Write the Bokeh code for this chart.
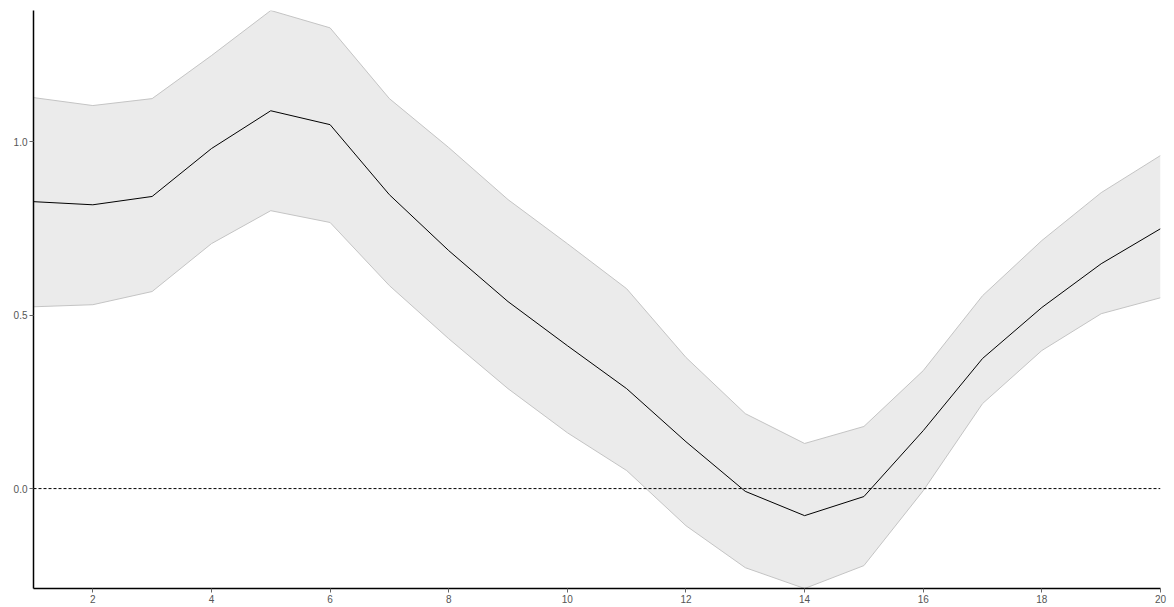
from bokeh.plotting import figure
from bokeh.models import Range1d, Span, FixedTicker, CustomJSTickFormatter
from bokeh.embed import file_html
from bokeh.resources import INLINE

steps = list(range(1, 21))
mean = [0.827, 0.818, 0.842, 0.980, 1.089, 1.049, 0.847, 0.686, 0.539, 0.412,
        0.288, 0.135, -0.008, -0.078, -0.023, 0.167, 0.375, 0.522, 0.648, 0.749]
upper = [1.127, 1.104, 1.124, 1.248, 1.378, 1.328, 1.124, 0.983, 0.833, 0.706,
         0.576, 0.378, 0.216, 0.130, 0.179, 0.340, 0.556, 0.715, 0.853, 0.960]
lower = [0.524, 0.530, 0.568, 0.706, 0.801, 0.767, 0.585, 0.432, 0.288, 0.161,
         0.052, -0.107, -0.228, -0.288, -0.222, -0.006, 0.245, 0.398, 0.504, 0.550]
x_ticks = [2, 4, 6, 8, 10, 12, 14, 16, 18, 20]
y_ticks = [0.0, 0.5, 1.0]

p = figure(width=1170, height=606, output_backend="svg", toolbar_location=None,
           x_range=Range1d(1, 20), y_range=Range1d(min(lower), max(upper)),
           min_border_left=33, min_border_right=10, min_border_top=10, min_border_bottom=18)
p.outline_line_color = None
p.xgrid.visible = False
p.ygrid.visible = False

p.varea(x=steps, y1=lower, y2=upper, fill_color="#ebebeb")
p.line(steps, upper, line_color="#c4c4c4", line_width=1)
p.line(steps, lower, line_color="#c4c4c4", line_width=1)
p.add_layout(Span(location=0, dimension="width", line_color="black",
                  line_dash="3 2", line_width=1))
p.line(steps, mean, line_color="black", line_width=1)

for ax in (p.xaxis[0], p.yaxis[0]):
    ax.axis_line_color = "black"
    ax.axis_line_width = 1.5
    ax.major_tick_line_color = "#666666"
    ax.major_tick_out = 4
    ax.major_tick_in = 0
    ax.minor_tick_line_color = None
    ax.major_label_text_font = "Liberation Sans"
    ax.major_label_text_font_size = "10px"
    ax.major_label_text_color = "#555555"
    ax.major_label_standoff = 2

p.xaxis.ticker = FixedTicker(ticks=x_ticks)
p.yaxis.ticker = FixedTicker(ticks=y_ticks)
p.yaxis.formatter = CustomJSTickFormatter(code="return tick.toFixed(1);")

open("out.html", "w").write(file_html(p, INLINE))
